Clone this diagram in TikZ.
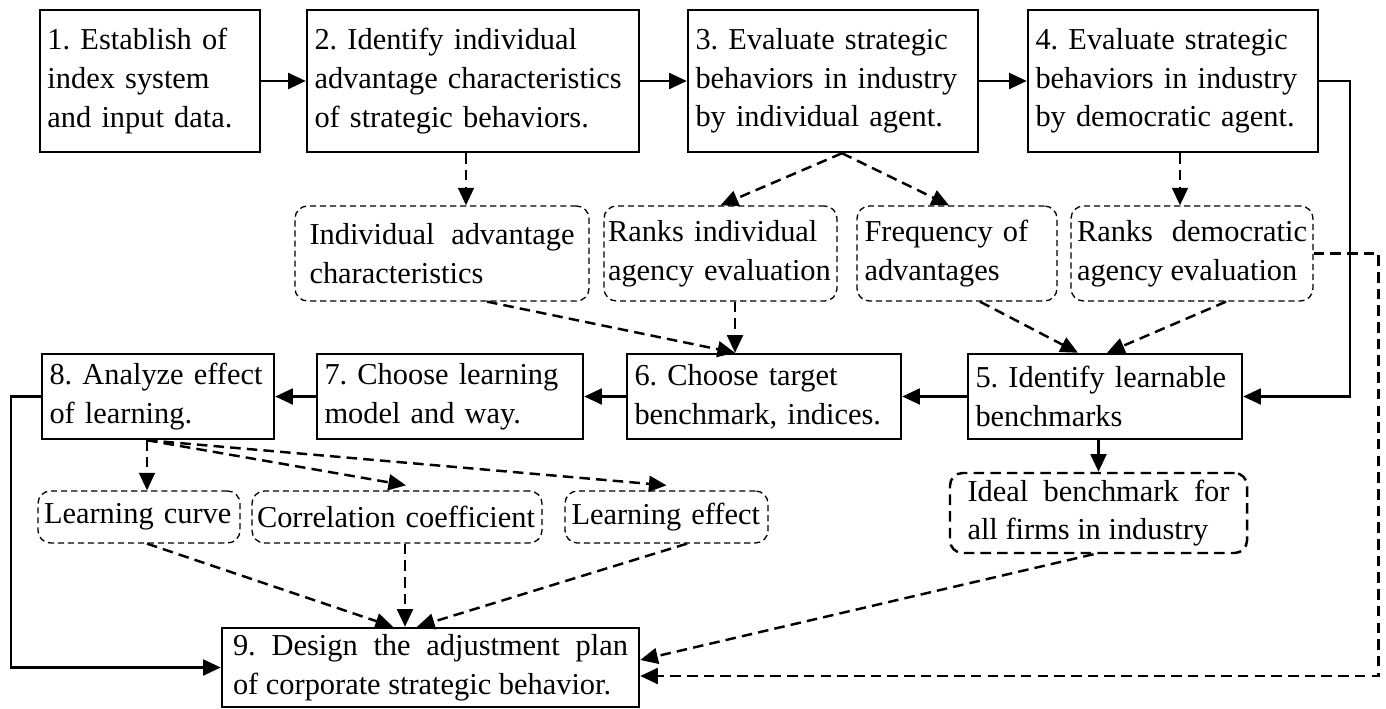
\documentclass[tikz,border=0pt]{standalone}
\usepackage{fontspec}
\setmainfont{Liberation Serif}
\usepackage{tikz}
\usetikzlibrary{arrows.meta,positioning,calc}
\hyphenpenalty=10000
\frenchspacing

\begin{document}
\begin{tikzpicture}[
    font=\fontsize{17.3}{22}\selectfont,
    stage/.style={draw, line width=1.4pt, inner xsep=0.15cm, align=left},
    outcome/.style={draw, line width=0.75pt, dash pattern=on 3.5pt off 2.2pt,
      rounded corners=0.25cm, inner xsep=0.08cm, align=left},
    flow/.style={line width=1.4pt, -{Triangle[length=10pt, width=9pt]}},
    dflow/.style={flow, dash pattern=on 6pt off 3.5pt},
  ]
  \useasboundingbox (0,0) rectangle (27.72,-14.18);

  % --- Steps 1-4 ---
  \node[stage, text width=4.1cm, minimum height=2.84cm] (s1) at (3.00,-1.62)
    {1. Establish of\\index system\\and input data.};
  \node[stage, text width=6.34cm, minimum height=2.84cm] (s2) at (9.46,-1.62)
    {2. Identify individual\\advantage characteristics\\of strategic behaviors.};
  \node[stage, text width=5.5cm, minimum height=2.84cm] (s3) at (16.66,-1.62)
    {3. Evaluate strategic\\behaviors in industry\\by individual agent.};
  \node[stage, text width=5.5cm, minimum height=2.84cm] (s4) at (23.46,-1.62)
    {4. Evaluate strategic\\behaviors in industry\\by democratic agent.};

  % --- Evaluation results ---
  \node[outcome, align=justify, text width=5.3cm, minimum width=5.88cm, minimum height=1.9cm] (ia) at (8.84,-5.07)
    {Individual advantage\linebreak characteristics};
  \node[outcome, text width=4.5cm, minimum width=4.64cm, minimum height=1.9cm] (ri) at (14.41,-5.07)
    {Ranks individual\\agency evaluation};
  \node[outcome, text width=3.7cm, minimum width=4.0cm, minimum height=1.9cm] (fr) at (19.14,-5.07)
    {Frequency of\\advantages};
  \node[outcome, align=justify, text width=4.6cm, minimum width=4.84cm, minimum height=1.9cm] (rd) at (23.84,-5.07)
    {Ranks democratic\linebreak agency evaluation};

  % --- Steps 5-8 ---
  \node[stage, text width=4.34cm, minimum height=1.7cm] (s8) at (3.16,-7.93)
    {8. Analyze effect\\of learning.};
  \node[stage, text width=5.02cm, minimum height=1.7cm] (s7) at (9.00,-7.93)
    {7. Choose learning\\model and way.};
  \node[stage, text width=5.18cm, minimum height=1.7cm] (s6) at (15.28,-7.93)
    {6. Choose target\\benchmark, indices.};
  \node[stage, text width=5.18cm, minimum height=1.7cm] (s5) at (22.10,-7.93)
    {5. Identify learnable\\benchmarks};

  % --- Learning results ---
  \node[outcome, text width=3.8cm, minimum width=4.04cm, minimum height=1.04cm] (lc) at (2.78,-10.34)
    {Learning curve};
  \node[outcome, text width=5.6cm, minimum width=5.8cm, minimum height=1.04cm] (cc) at (7.94,-10.34)
    {Correlation coefficient};
  \node[outcome, text width=3.8cm, minimum width=4.06cm, minimum height=1.04cm] (le) at (13.33,-10.34)
    {Learning effect};
  \node[outcome, align=justify, line width=1.4pt, dash pattern=on 6pt off 3.5pt, text width=5.24cm,
    minimum width=5.94cm, minimum height=1.6cm] (ib) at (21.97,-10.26)
    {Ideal benchmark for\linebreak all firms in industry};

  % --- Step 9 ---
  \node[stage, align=justify, text width=7.9cm, minimum width=8.34cm, minimum height=1.58cm] (s9) at (8.61,-13.35)
    {9. Design the adjustment plan\linebreak of corporate strategic behavior.};

  % --- Main flow ---
  \draw[flow] (s1.east) -- (s2.west);
  \draw[flow] (s2.east) -- (s3.west);
  \draw[flow] (s3.east) -- (s4.west);
  \draw[flow] (s4.east) -- ++(0.62,0) |- (s5.east);
  \draw[flow] (s5.west) -- (s6.east);
  \draw[flow] (s6.west) -- (s7.east);
  \draw[flow] (s7.west) -- (s8.east);
  \draw[flow] (s8.west) -- ++(-0.6,0) |- (s9.west);
  \draw[flow] (ib.north |- s5.south) -- (ib.north);

  % --- Results of steps 2-4 ---
  \coordinate (s3b) at ([xshift=0.18cm]s3.south);
  \draw[dflow] ([xshift=-0.14cm]s2.south) -- ([xshift=-0.14cm]s2.south |- ia.north);
  \draw[dflow] (s3b) -- (ri.north);
  \draw[dflow] (s3b) -- ([xshift=-0.16cm]fr.north);
  \draw[dflow] ([xshift=0.14cm]s4.south) -- ([xshift=0.14cm]s4.south |- rd.north);

  % --- Into steps 6 and 5 ---
  \coordinate (t6) at ([xshift=-0.58cm]s6.north);
  \draw[dflow] ([xshift=0.9cm]ia.south) -- (t6);
  \draw[dflow] (t6 |- ri.south) -- (t6);
  \draw[dflow] ([xshift=0.46cm]fr.south) -- ([xshift=-0.54cm]s5.north);
  \draw[dflow] ([xshift=0.68cm]rd.south) -- ([xshift=0.04cm]s5.north);

  % --- Results of step 8 ---
  \coordinate (s8b) at ([xshift=-0.22cm]s8.south);
  \draw[dflow] (s8b) -- (s8b |- lc.north);
  \draw[dflow] (s8b) -- ([xshift=0.18cm,yshift=0.1cm]cc.north);
  \draw[dflow] (s8b) -- ([yshift=0.1cm]le.north);

  % --- Into step 9 ---
  \draw[dflow] ([xshift=0.16cm]lc.south) -- ([xshift=-0.75cm]s9.north);
  \draw[dflow] ([xshift=-0.51cm]s9.north |- cc.south) -- ([xshift=-0.51cm]s9.north);
  \draw[dflow] ([xshift=0.41cm]le.south) -- ([xshift=-0.27cm]s9.north);
  \draw[dflow] ([xshift=-0.1cm]ib.south) -- ([yshift=0.15cm]s9.east);
  \draw[dflow] (rd.east) -- ++(1.3,0) |- ([yshift=-0.17cm]s9.east);
\end{tikzpicture}
\end{document}
